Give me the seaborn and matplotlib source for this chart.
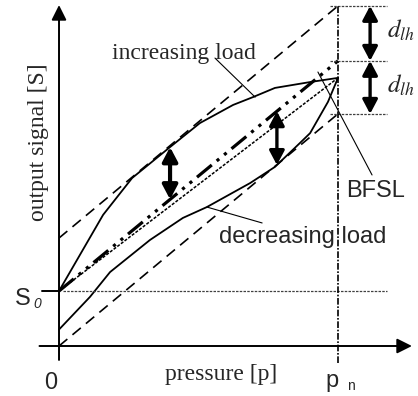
import matplotlib

matplotlib.use("Agg")
import matplotlib.pyplot as plt
import numpy as np
import pandas as pd
import seaborn as sns


# pressure in % of the nominal pressure pn, output signal on the same scale
PRESSURE_UP = [0, 15.8, 26.2, 39.8, 50.5, 62.4, 69.5, 77.4, 90.0, 100]
SIGNAL_UP = [19.7, 47.0, 60.2, 71.3, 79.9, 86.4, 89.2, 92.5, 94.6, 96.1]

PRESSURE_DOWN = [0, 11.1, 18.3, 32.6, 44.4, 53.0, 68.5, 77.4, 86.4, 90.0, 96.4, 100]
SIGNAL_DOWN = [5.9, 17.6, 26.5, 38.0, 45.9, 49.8, 58.4, 64.2, 72.8, 76.3, 87.5, 96.1]

PRESSURE_ENDS = [0, 100]
SIGNAL_BFSL = [19.7, 102.2]
SIGNAL_TOL_UPPER = [38.7, 121.9]
SIGNAL_TOL_LOWER = [0.0, 83.2]
SIGNAL_TERMINAL = [19.7, 96.1]

S0 = 19.7
PN = 100
HYST_PRESSURES = [39.8, 78.1]

SERIF = ["Liberation Serif", "DejaVu Serif"]
SANS = ["Liberation Sans", "DejaVu Sans"]

LINE_STYLES = {
    "increasing": dict(linewidth=1.3, linestyle="-"),
    "decreasing": dict(linewidth=1.3, linestyle="-"),
    "tol_upper": dict(linewidth=1.2, linestyle=(0, (6.5, 4))),
    "tol_lower": dict(linewidth=1.2, linestyle=(0, (6.5, 4))),
    "terminal": dict(linewidth=1.1, linestyle=(0, (2, 1))),
    "bfsl": dict(linewidth=2.3, linestyle=(0, (6, 2, 1, 2, 1, 2))),
}


def build_lines() -> pd.DataFrame:
    parts = [
        pd.DataFrame({"pressure": PRESSURE_UP, "signal": SIGNAL_UP, "line": "increasing"}),
        pd.DataFrame({"pressure": PRESSURE_DOWN, "signal": SIGNAL_DOWN, "line": "decreasing"}),
        pd.DataFrame({"pressure": PRESSURE_ENDS, "signal": SIGNAL_TOL_UPPER, "line": "tol_upper"}),
        pd.DataFrame({"pressure": PRESSURE_ENDS, "signal": SIGNAL_TOL_LOWER, "line": "tol_lower"}),
        pd.DataFrame({"pressure": PRESSURE_ENDS, "signal": SIGNAL_TERMINAL, "line": "terminal"}),
        pd.DataFrame({"pressure": PRESSURE_ENDS, "signal": SIGNAL_BFSL, "line": "bfsl"}),
    ]
    return pd.concat(parts, ignore_index=True)


def arrow(ax, start, end, style, lw, scale=10):
    ax.annotate(
        "",
        xy=end,
        xytext=start,
        arrowprops=dict(
            arrowstyle=style,
            lw=lw,
            color="black",
            shrinkA=0,
            shrinkB=0,
            mutation_scale=scale,
        ),
    )


def main() -> None:
    sns.set_theme(style="white")
    plt.rcParams["font.family"] = SANS
    plt.rcParams["mathtext.fontset"] = "stix"

    fig = plt.figure(figsize=(4.18, 3.96), dpi=100)
    ax = fig.add_axes([0, 0, 1, 1])

    lines = build_lines()
    for name, group in lines.groupby("line", sort=False):
        sns.lineplot(
            data=group,
            x="pressure",
            y="signal",
            ax=ax,
            color="black",
            estimator=None,
            sort=False,
            **LINE_STYLES[name],
        )

    # reference lines
    ax.hlines(S0, 1.4, 117.6, colors="0.25", linewidth=0.9, linestyles=(0, (2, 1)))
    ends = [SIGNAL_TOL_UPPER[-1], SIGNAL_BFSL[-1], SIGNAL_TOL_LOWER[-1]]
    ax.hlines(ends, 97, 117.6, colors="0.25", linewidth=0.9, linestyles=(0, (2, 1)))
    ax.vlines(PN, -6.1, 122.2, colors="black", linewidth=1.2, linestyles=(0, (4, 1, 1, 1)))
    ax.plot([-6.1, 0], [S0, S0], color="black", lw=1.4)

    # axes with arrow heads
    axis_style = "-|>,head_length=0.9,head_width=0.45"
    arrow(ax, (0, -5.0), (0, 122.2), axis_style, 1.4)
    arrow(ax, (-7.0, 0), (126.5, 0), axis_style, 1.4)

    # hysteresis arrows between the curves and the BFSL
    bfsl_at = np.interp(HYST_PRESSURES, PRESSURE_ENDS, SIGNAL_BFSL)
    up_at = np.interp(HYST_PRESSURES[0], PRESSURE_UP, SIGNAL_UP)
    down_at = np.interp(HYST_PRESSURES[1], PRESSURE_DOWN, SIGNAL_DOWN)
    double_style = "<|-|>,head_length=0.85,head_width=0.45"
    arrow(ax, (HYST_PRESSURES[0], bfsl_at[0]), (HYST_PRESSURES[0], up_at), double_style, 3.0)
    arrow(ax, (HYST_PRESSURES[1], down_at), (HYST_PRESSURES[1], bfsl_at[1]), double_style, 2.4)

    # d_lh arrows at the right
    arrow(ax, (111.5, SIGNAL_BFSL[-1]), (111.5, SIGNAL_TOL_UPPER[-1]), double_style, 2.4)
    arrow(ax, (111.5, SIGNAL_TOL_LOWER[-1]), (111.5, SIGNAL_BFSL[-1]), double_style, 2.4)

    # leader lines for the labels
    leaders = [
        ((55.9, 70.3), (103.2, 89.2)),
        ((53.0, 72.8), (49.8, 44.1)),
        ((92.8, 112.2), (98.2, 61.3)),
    ]
    for xs, ys in leaders:
        ax.plot(xs, ys, color="black", lw=0.8)

    ax.text(44.8, 102.9, "increasing load", family=SERIF, fontsize=17, ha="center", va="baseline")
    ax.text(87.3, 36.9, "decreasing load", fontsize=17, ha="center", va="baseline")
    ax.text(113.3, 53.4, "BFSL", fontsize=17, ha="center", va="baseline")
    ax.text(-15.8, 14.7, "S", fontsize=17, ha="left", va="baseline")
    ax.text(-9.3, 13.6, "0", fontsize=10, style="italic", ha="left", va="baseline")
    ax.text(-2.9, -15.4, "0", fontsize=17, ha="center", va="baseline")
    ax.text(98.0, -14.7, "p", fontsize=17, ha="center", va="baseline")
    ax.text(104.8, -15.8, "n", fontsize=10, ha="center", va="baseline")
    ax.text(-7.5, 72.9, "output signal [S]", family=SERIF, fontsize=17,
            rotation=90, ha="center", va="center")
    ax.text(58.1, -12.2, "pressure [p]", family=SERIF, fontsize=17, ha="center", va="baseline")
    for y in (110.4, 90.7):
        ax.text(117.6, y, r"$d_{lh}$", fontsize=18, ha="left", va="baseline")

    ax.set_xlim(-21.15, 128.67)
    ax.set_ylim(-17.92, 124.01)
    ax.axis("off")
    fig.savefig("out.png", dpi=100)
    plt.close(fig)


if __name__ == "__main__":
    main()
